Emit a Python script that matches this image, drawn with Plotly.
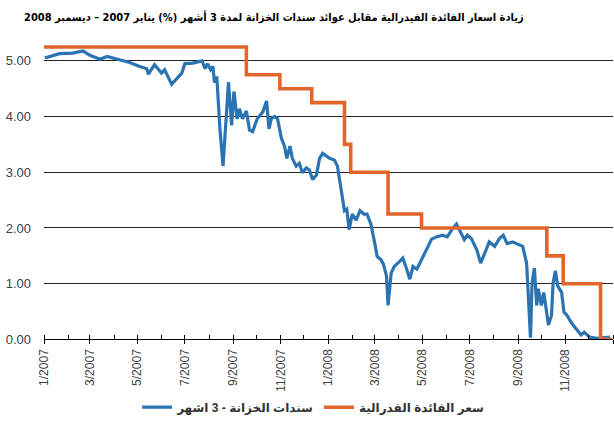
import plotly.graph_objects as go

# 3-month Treasury bill yield (%)
tbill_dates = [
    "2007-01-02", "2007-01-21", "2007-02-07", "2007-02-20", "2007-03-01", "2007-03-14",
    "2007-03-23", "2007-04-08", "2007-04-21", "2007-05-04", "2007-05-13", "2007-05-15",
    "2007-05-23", "2007-06-01", "2007-06-05", "2007-06-14", "2007-06-21", "2007-06-27",
    "2007-07-01", "2007-07-11", "2007-07-23", "2007-07-27", "2007-07-30", "2007-08-03",
    "2007-08-06", "2007-08-08", "2007-08-11", "2007-08-15", "2007-08-19", "2007-08-24",
    "2007-08-26", "2007-08-30", "2007-09-02", "2007-09-06", "2007-09-09", "2007-09-13",
    "2007-09-18", "2007-09-22", "2007-09-26", "2007-10-02", "2007-10-09", "2007-10-14",
    "2007-10-17", "2007-10-20", "2007-10-24", "2007-10-28", "2007-11-02", "2007-11-06",
    "2007-11-09", "2007-11-13", "2007-11-16", "2007-11-21", "2007-11-25", "2007-11-29",
    "2007-12-04", "2007-12-08", "2007-12-12", "2007-12-17", "2007-12-21", "2007-12-25",
    "2007-12-30", "2008-01-03", "2008-01-09", "2008-01-13", "2008-01-18", "2008-01-22",
    "2008-01-25", "2008-01-28", "2008-02-01", "2008-02-06", "2008-02-11", "2008-02-16",
    "2008-02-20", "2008-02-25", "2008-03-01", "2008-03-04", "2008-03-09", "2008-03-12",
    "2008-03-16", "2008-03-18", "2008-03-22", "2008-03-26", "2008-04-02", "2008-04-06",
    "2008-04-11", "2008-04-15", "2008-04-19", "2008-04-24", "2008-04-30", "2008-05-06",
    "2008-05-13", "2008-05-19", "2008-05-27", "2008-06-02", "2008-06-09", "2008-06-14",
    "2008-06-20", "2008-06-24", "2008-06-28", "2008-07-03", "2008-07-10", "2008-07-15",
    "2008-07-20", "2008-07-26", "2008-08-02", "2008-08-08", "2008-08-13", "2008-08-18",
    "2008-08-25", "2008-08-31", "2008-09-07", "2008-09-12", "2008-09-14", "2008-09-17",
    "2008-09-19", "2008-09-22", "2008-09-25", "2008-09-27", "2008-10-01", "2008-10-04",
    "2008-10-07", "2008-10-10", "2008-10-14", "2008-10-16", "2008-10-19", "2008-10-22",
    "2008-10-27", "2008-10-30", "2008-11-03", "2008-11-08", "2008-11-14", "2008-11-21",
    "2008-11-25", "2008-12-02", "2008-12-11", "2008-12-18", "2008-12-28",
]
tbill_yield = [
    5.05, 5.13, 5.14, 5.18, 5.10, 5.03,
    5.08, 5.02, 4.97, 4.90, 4.86, 4.76,
    4.93, 4.78, 4.84, 4.58, 4.69, 4.78,
    4.95, 4.96, 5.00, 4.86, 4.95, 4.84,
    4.90, 4.61, 4.72, 3.78, 3.11, 4.19,
    4.62, 3.84, 4.45, 3.96, 4.14, 3.96,
    4.10, 3.76, 3.73, 3.96, 4.08, 4.28,
    3.78, 3.96, 4.00, 3.96, 3.61, 3.47,
    3.25, 3.47, 3.25, 3.11, 3.16, 2.99,
    3.08, 3.04, 2.87, 2.95, 3.25, 3.34,
    3.29, 3.25, 3.22, 3.11, 2.67, 2.31,
    2.34, 1.97, 2.25, 2.14, 2.31, 2.25,
    2.25, 2.07, 1.72, 1.49, 1.43, 1.35,
    1.14, 0.61, 1.19, 1.31, 1.40, 1.46,
    1.26, 1.08, 1.31, 1.26, 1.43, 1.61,
    1.80, 1.84, 1.87, 1.84, 1.99, 2.07,
    1.90, 1.79, 1.87, 1.81, 1.61, 1.37,
    1.54, 1.75, 1.67, 1.81, 1.87, 1.72,
    1.75, 1.72, 1.67, 1.37, 0.78, 0.03,
    1.01, 1.28, 0.61, 0.91, 0.61, 0.84,
    0.56, 0.26, 0.43, 1.01, 1.23, 0.96,
    0.84, 0.49, 0.43, 0.31, 0.20, 0.08,
    0.13, 0.04, 0.02, 0.03, 0.04,
]

# Federal funds target rate (%), step changes
fed_dates = [
    "2007-01-01", "2007-09-18", "2007-10-31", "2007-12-11", "2008-01-22", "2008-01-30",
    "2008-03-18", "2008-04-30", "2008-10-08", "2008-10-29", "2008-12-16", "2008-12-31",
]
fed_rate = [5.25, 4.75, 4.50, 4.25, 3.50, 3.00, 2.25, 2.00, 1.50, 1.00, 0.00, 0.00]

title_text = "زيادة اسعار الفائدة الفيدرالية مقابل عوائد سندات الخزانة لمدة 3 أشهر (%) يناير 2007 – ديسمبر 2008"
tbill_name = "سندات الخزانة - 3 اشهر"
fed_name = "سعر الفائدة الفدرالية"

BLUE = "#2A74B3"
ORANGE = "#E2662C"
FONT = "Arial, Liberation Sans, DejaVu Sans, sans-serif"
TITLE_FONT = "DejaVu Sans Condensed, DejaVu Sans, sans-serif"

fig = go.Figure()
fig.add_trace(go.Scatter(
    x=tbill_dates, y=tbill_yield, mode="lines", name=tbill_name,
    line=dict(color=BLUE, width=3.2),
))
fig.add_trace(go.Scatter(
    x=fed_dates, y=fed_rate, mode="lines", name=fed_name,
    line=dict(color=ORANGE, width=3.6, shape="hv"),
))

fig.update_layout(
    width=614, height=446,
    margin=dict(l=44, r=1, t=33, b=101),
    paper_bgcolor="white", plot_bgcolor="white",
    font=dict(family=FONT, size=12, color="#404040"),
    title=dict(
        text="<b>" + title_text + "</b>",
        font=dict(family=TITLE_FONT, size=11, color="#000000"),
        xref="container", x=0.446, xanchor="center",
        yref="container", y=0.962, yanchor="middle",
    ),
    showlegend=True,
    legend=dict(
        orientation="h",
        xref="container", x=0.51, xanchor="center",
        yref="container", y=0.087, yanchor="middle",
        font=dict(family=FONT, size=12, color="#333333", weight="bold"),
        itemwidth=30,
        bgcolor="rgba(0,0,0,0)",
    ),
)

fig.update_xaxes(
    type="date",
    range=["2007-01-01", "2009-01-01"],
    tick0="2007-01-01", dtick="M2",
    tickformat="%-m/%Y",
    tickangle=-90,
    ticks="outside", ticklen=4, tickcolor="#000000", tickwidth=1,
    minor=dict(dtick="M1", ticks="inside", ticklen=4, tickcolor="#000000", tickwidth=1, showgrid=False),
    showline=True, linecolor="#000000", linewidth=1,
    showgrid=False, zeroline=False,
    tickfont=dict(size=12, color="#404040"),
)
fig.update_yaxes(
    range=[0, 5.5],
    tick0=0, dtick=1,
    tickformat=".2f",
    showgrid=True, gridcolor="#222222", gridwidth=1,
    zeroline=False, showline=False, ticks="",
    ticklabelstandoff=12,
    tickfont=dict(size=13, color="#404040"),
)

fig.write_html("out.html")
